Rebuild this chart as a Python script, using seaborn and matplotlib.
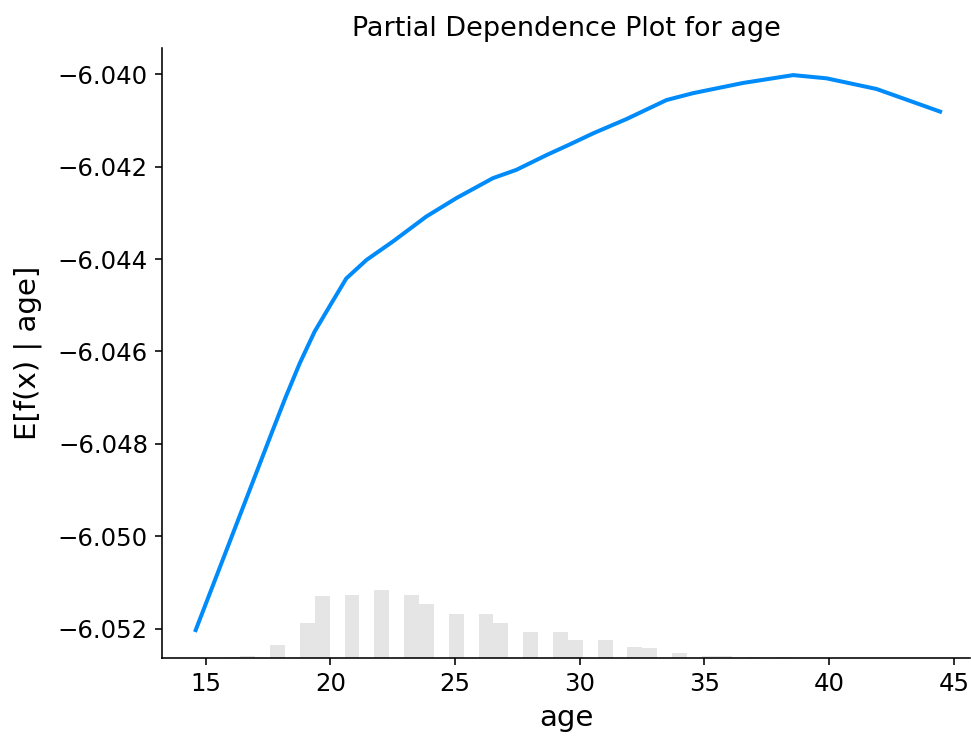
import numpy as np
import pandas as pd
import matplotlib
matplotlib.use("Agg")
import matplotlib.pyplot as plt
from matplotlib.ticker import FuncFormatter
import seaborn as sns

# Partial dependence curve: E[f(x) | age] evaluated over the age range
age_grid = [14.60, 15.20, 15.80, 16.40, 17.00, 17.60, 18.20, 18.77, 19.37, 20.04,
            20.64, 21.45, 22.51, 23.85, 25.06, 26.52, 27.46, 28.67, 29.60,
            30.54, 31.88, 33.48, 34.55, 36.55, 38.56, 39.90, 41.90, 44.45]
expected_value = [-6.05203, -6.05119, -6.05035, -6.04951, -6.04867, -6.04783,
                  -6.04700, -6.04626, -6.04557, -6.04496, -6.04442, -6.04402,
                  -6.04362, -6.04308, -6.04268, -6.04225, -6.04207, -6.04175,
                  -6.04152, -6.04128, -6.04097, -6.04056, -6.04041,
                  -6.04019, -6.04002, -6.04009, -6.04032, -6.04081]

# Sample counts of age in 50 equal-width bins spanning the same range
age_hist_counts = [0, 0, 1, 2, 0, 10, 0, 27, 48, 0,
                   49, 0, 53, 0, 49, 42, 0, 34, 0, 34,
                   27, 0, 20, 0, 20, 14, 0, 14, 0, 9,
                   8, 0, 4, 0, 2, 2, 0, 1, 0, 1,
                   0, 0, 0, 0, 0, 0, 0, 0, 0, 0]

x_ticks = [15, 20, 25, 30, 35, 40, 45]
y_ticks = [-6.040, -6.042, -6.044, -6.046, -6.048, -6.050, -6.052]

feature = "age"
line_color = (0.0, 0.54337757, 0.98337906)

age_min, age_max = age_grid[0], age_grid[-1]
n_bins = len(age_hist_counts)
edges = np.linspace(age_min, age_max, n_bins + 1)
centers = (edges[:-1] + edges[1:]) / 2

curve = pd.DataFrame({"age": age_grid, "value": expected_value})
hist_df = pd.DataFrame({"age": centers, "count": age_hist_counts})

dpi = 144
fig = plt.figure(figsize=(971 / dpi, 740 / dpi), dpi=dpi)
ax1 = fig.add_axes([162 / 971, 81.7 / 740, (970 - 162) / 971, (658.3 - 48.3) / 740])

sns.lineplot(data=curve, x="age", y="value", ax=ax1, color=line_color,
             linewidth=2, zorder=3)

ax2 = ax1.twinx()
sns.histplot(data=hist_df, x="age", weights="count", bins=n_bins,
             binrange=(age_min, age_max), ax=ax2, color="black", alpha=0.1,
             linewidth=0, edgecolor="none")
ax2.set_ylim(0, sum(age_hist_counts))
ax2.set_yticks([])
ax2.set_ylabel("")
for s in ax2.spines.values():
    s.set_visible(False)

ax1.set_xlim(13.25, 45.65)
ax1.set_ylim(-6.05264, -6.03944)
ax1.set_xticks(x_ticks)
ax1.set_yticks(y_ticks)
ax1.yaxis.set_major_formatter(FuncFormatter(lambda v, p: f"{v:.3f}".replace("-", "\u2212")))
ax1.spines["right"].set_visible(False)
ax1.spines["top"].set_visible(False)
ax1.tick_params(labelsize=12.2)
ax1.set_xlabel(feature, fontsize=14.6)
ax1.set_ylabel(f"E[f(x) | {feature}]", fontsize=14.6, labelpad=8)
ax1.set_title(f"Partial Dependence Plot for {feature}", fontsize=13.5)

fig.savefig("out.png", dpi=dpi)
